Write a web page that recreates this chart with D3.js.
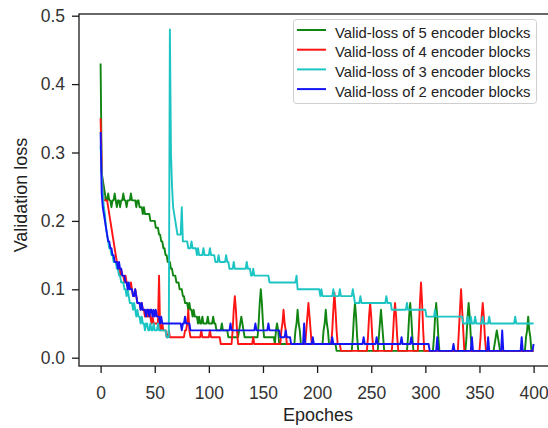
<!DOCTYPE html>
<html>
<head>
<meta charset="utf-8">
<script src="https://cdn.jsdelivr.net/npm/d3@7"></script>
<style>
  body { margin: 0; background: #fff; }
  text { font-family: "Liberation Sans", Arial, Helvetica, sans-serif; }
</style>
</head>
<body>
<svg id="chart" width="548" height="428"></svg>
<script>
// validation loss per epoch (index = epoch)
var loss5 = [
  0.43,0.27,0.26,0.25,0.24,0.23,0.23,0.24,0.23,0.23,
  0.22,0.23,0.23,0.24,0.23,0.22,0.23,0.23,0.22,0.23,
  0.23,0.24,0.23,0.23,0.22,0.23,0.23,0.23,0.24,0.23,
  0.23,0.23,0.23,0.22,0.23,0.23,0.22,0.22,0.22,0.21,
  0.22,0.21,0.21,0.21,0.21,0.21,0.20,0.20,0.20,0.20,
  0.20,0.19,0.19,0.19,0.18,0.18,0.17,0.17,0.16,0.16,
  0.15,0.15,0.14,0.14,0.14,0.13,0.13,0.12,0.12,0.12,
  0.11,0.11,0.11,0.10,0.10,0.10,0.09,0.09,0.08,0.08,
  0.08,0.07,0.08,0.07,0.07,0.06,0.07,0.06,0.06,0.06,
  0.05,0.06,0.05,0.05,0.06,0.05,0.05,0.05,0.05,0.06,
  0.05,0.05,0.05,0.05,0.06,0.05,0.05,0.04,0.04,0.04,
  0.04,0.04,0.05,0.04,0.04,0.04,0.04,0.04,0.03,0.03,
  0.03,0.03,0.03,0.03,0.03,0.03,0.03,0.03,0.04,0.05,
  0.06,0.05,0.04,0.03,0.03,0.03,0.03,0.03,0.03,0.03,
  0.03,0.03,0.03,0.03,0.03,0.03,0.05,0.08,0.10,0.08,
  0.05,0.03,0.03,0.03,0.03,0.03,0.03,0.03,0.03,0.03,
  0.03,0.02,0.04,0.05,0.04,0.02,0.02,0.02,0.02,0.02,
  0.02,0.02,0.02,0.02,0.02,0.02,0.02,0.02,0.02,0.02,
  0.04,0.05,0.07,0.05,0.04,0.02,0.02,0.02,0.02,0.02,
  0.02,0.02,0.02,0.02,0.02,0.02,0.02,0.02,0.02,0.02,
  0.02,0.02,0.02,0.02,0.02,0.02,0.04,0.05,0.07,0.05,
  0.04,0.02,0.02,0.02,0.02,0.02,0.02,0.02,0.01,0.01,
  0.01,0.01,0.01,0.01,0.01,0.01,0.01,0.01,0.01,0.01,
  0.01,0.01,0.01,0.03,0.06,0.08,0.06,0.03,0.01,0.01,
  0.01,0.01,0.01,0.01,0.01,0.01,0.01,0.01,0.01,0.01,
  0.01,0.01,0.01,0.01,0.01,0.01,0.01,0.03,0.05,0.07,
  0.05,0.03,0.01,0.01,0.01,0.01,0.01,0.01,0.01,0.01,
  0.01,0.01,0.01,0.01,0.01,0.01,0.01,0.01,0.01,0.01,
  0.01,0.01,0.01,0.01,0.03,0.06,0.08,0.06,0.03,0.01,
  0.01,0.01,0.01,0.01,0.01,0.01,0.01,0.01,0.01,0.01,
  0.01,0.01,0.01,0.01,0.01,0.01,0.01,0.01,0.03,0.06,
  0.08,0.06,0.03,0.01,0.01,0.01,0.01,0.01,0.01,0.01,
  0.01,0.01,0.01,0.01,0.01,0.01,0.01,0.01,0.01,0.01,
  0.01,0.01,0.01,0.01,0.01,0.01,0.01,0.01,0.03,0.06,
  0.08,0.06,0.03,0.01,0.01,0.01,0.01,0.01,0.01,0.01,
  0.01,0.01,0.01,0.01,0.01,0.01,0.01,0.01,0.01,0.01,
  0.01,0.01,0.01,0.01,0.02,0.03,0.04,0.03,0.02,0.01,
  0.01,0.01,0.01,0.01,0.01,0.01,0.01,0.01,0.01,0.01,
  0.01,0.01,0.01,0.01,0.01,0.01,0.01,0.01,0.01,0.01,
  0.01,0.01,0.01,0.03,0.04,0.06,0.04,0.03,0.01,0.01,
  0.01
];

var loss4 = [
  0.35,0.28,0.24,0.23,0.23,0.23,0.23,0.22,0.21,0.20,
  0.19,0.18,0.17,0.16,0.15,0.14,0.13,0.13,0.12,0.13,
  0.12,0.12,0.11,0.12,0.11,0.11,0.10,0.10,0.11,0.10,
  0.09,0.09,0.10,0.09,0.08,0.08,0.08,0.07,0.08,0.07,
  0.07,0.06,0.07,0.06,0.06,0.07,0.06,0.05,0.06,0.05,
  0.05,0.05,0.05,0.05,0.12,0.04,0.04,0.05,0.04,0.04,
  0.04,0.03,0.03,0.04,0.03,0.03,0.03,0.03,0.03,0.03,
  0.03,0.03,0.03,0.03,0.03,0.03,0.03,0.03,0.04,0.04,
  0.05,0.07,0.04,0.03,0.03,0.03,0.03,0.03,0.03,0.03,
  0.03,0.03,0.03,0.04,0.03,0.03,0.03,0.03,0.03,0.03,
  0.03,0.04,0.03,0.03,0.03,0.03,0.03,0.03,0.03,0.03,
  0.03,0.02,0.02,0.02,0.02,0.02,0.02,0.02,0.02,0.02,
  0.02,0.02,0.04,0.07,0.09,0.07,0.04,0.02,0.02,0.02,
  0.02,0.02,0.02,0.02,0.02,0.02,0.02,0.02,0.02,0.02,
  0.02,0.03,0.02,0.02,0.02,0.02,0.02,0.02,0.02,0.02,
  0.02,0.02,0.02,0.02,0.02,0.02,0.02,0.02,0.02,0.02,
  0.02,0.02,0.02,0.02,0.02,0.02,0.02,0.04,0.05,0.07,
  0.05,0.04,0.02,0.02,0.02,0.02,0.02,0.02,0.02,0.02,
  0.02,0.02,0.02,0.02,0.02,0.02,0.02,0.02,0.02,0.02,
  0.04,0.06,0.08,0.06,0.04,0.02,0.02,0.02,0.02,0.02,
  0.02,0.02,0.02,0.02,0.02,0.02,0.02,0.02,0.02,0.02,
  0.02,0.02,0.02,0.02,0.04,0.07,0.095,0.07,0.04,0.02,
  0.02,0.02,0.01,0.01,0.01,0.01,0.01,0.01,0.01,0.01,
  0.01,0.01,0.01,0.01,0.01,0.01,0.01,0.01,0.01,0.01,
  0.01,0.01,0.01,0.01,0.01,0.01,0.01,0.03,0.06,0.08,
  0.06,0.03,0.01,0.01,0.01,0.01,0.01,0.01,0.01,0.01,
  0.01,0.01,0.01,0.01,0.01,0.01,0.01,0.01,0.01,0.01,
  0.03,0.06,0.08,0.06,0.03,0.01,0.01,0.01,0.01,0.01,
  0.01,0.01,0.01,0.01,0.01,0.01,0.01,0.01,0.01,0.01,
  0.01,0.01,0.01,0.01,0.04,0.08,0.11,0.08,0.04,0.01,
  0.01,0.01,0.01,0.01,0.01,0.01,0.01,0.01,0.01,0.01,
  0.01,0.01,0.01,0.01,0.01,0.01,0.01,0.01,0.01,0.01,
  0.01,0.01,0.01,0.01,0.01,0.01,0.01,0.01,0.01,0.01,
  0.01,0.04,0.07,0.10,0.07,0.04,0.01,0.01,0.01,0.01,
  0.01,0.01,0.01,0.01,0.01,0.01,0.01,0.01,0.01,0.01,
  0.01,0.03,0.06,0.08,0.06,0.03,0.01,0.01,0.01,0.01,
  0.01,0.01,0.01,0.01,0.01,0.01,0.01,0.01,0.01,0.01,
  0.01,0.01,0.01,0.01,0.01,0.01,0.01,0.01,0.01,0.01,
  0.01,0.01,0.01,0.01,0.01,0.01,0.01,0.01,0.01,0.01,
  0.01,0.01,0.01,0.01,0.01,0.01,0.01,0.01,0.01,0.01,
  0.01
];

var loss3 = [
  0.31,0.27,0.24,0.22,0.21,0.19,0.18,0.17,0.16,0.16,
  0.15,0.15,0.14,0.14,0.14,0.13,0.13,0.12,0.12,0.11,
  0.11,0.11,0.10,0.10,0.09,0.10,0.09,0.08,0.08,0.08,
  0.07,0.08,0.07,0.06,0.07,0.06,0.06,0.05,0.06,0.05,
  0.05,0.04,0.05,0.05,0.04,0.04,0.05,0.04,0.04,0.05,
  0.04,0.04,0.04,0.05,0.04,0.04,0.04,0.04,0.04,0.04,
  0.04,0.03,0.03,0.03,0.48,0.30,0.25,0.22,0.21,0.20,
  0.19,0.18,0.18,0.18,0.18,0.22,0.17,0.17,0.17,0.17,
  0.17,0.16,0.16,0.16,0.17,0.16,0.16,0.16,0.16,0.15,
  0.16,0.15,0.15,0.15,0.15,0.16,0.15,0.15,0.15,0.15,
  0.15,0.16,0.15,0.15,0.15,0.15,0.14,0.14,0.14,0.15,
  0.14,0.14,0.14,0.14,0.14,0.14,0.15,0.14,0.14,0.13,
  0.13,0.13,0.13,0.14,0.13,0.13,0.13,0.13,0.13,0.13,
  0.13,0.13,0.13,0.13,0.13,0.14,0.13,0.13,0.13,0.12,
  0.12,0.13,0.12,0.12,0.12,0.12,0.12,0.12,0.12,0.12,
  0.12,0.12,0.12,0.12,0.12,0.12,0.11,0.11,0.11,0.11,
  0.11,0.11,0.11,0.11,0.11,0.11,0.11,0.11,0.11,0.11,
  0.11,0.11,0.11,0.11,0.11,0.11,0.11,0.11,0.11,0.11,
  0.11,0.12,0.10,0.10,0.10,0.10,0.10,0.10,0.10,0.10,
  0.10,0.10,0.10,0.10,0.10,0.10,0.10,0.10,0.10,0.10,
  0.10,0.10,0.10,0.09,0.10,0.09,0.09,0.09,0.09,0.09,
  0.09,0.09,0.09,0.09,0.09,0.10,0.09,0.09,0.09,0.09,
  0.09,0.10,0.09,0.09,0.09,0.09,0.09,0.09,0.09,0.09,
  0.09,0.09,0.09,0.10,0.09,0.08,0.08,0.08,0.08,0.08,
  0.09,0.08,0.08,0.08,0.08,0.08,0.08,0.08,0.08,0.08,
  0.08,0.08,0.08,0.08,0.08,0.08,0.08,0.08,0.08,0.08,
  0.08,0.08,0.08,0.08,0.09,0.08,0.08,0.08,0.08,0.07,
  0.07,0.07,0.07,0.07,0.07,0.07,0.07,0.07,0.07,0.07,
  0.07,0.07,0.07,0.08,0.07,0.07,0.07,0.07,0.07,0.07,
  0.07,0.07,0.07,0.07,0.07,0.07,0.07,0.07,0.07,0.07,
  0.07,0.06,0.06,0.06,0.06,0.06,0.06,0.06,0.06,0.07,
  0.06,0.06,0.06,0.06,0.06,0.06,0.06,0.06,0.06,0.06,
  0.06,0.06,0.06,0.06,0.06,0.06,0.06,0.06,0.06,0.06,
  0.06,0.06,0.06,0.06,0.06,0.05,0.05,0.05,0.05,0.06,
  0.05,0.05,0.06,0.05,0.05,0.05,0.06,0.05,0.05,0.05,
  0.05,0.05,0.05,0.06,0.05,0.05,0.05,0.05,0.05,0.06,
  0.05,0.05,0.05,0.05,0.05,0.05,0.05,0.05,0.05,0.05,
  0.05,0.05,0.05,0.05,0.05,0.05,0.05,0.05,0.05,0.05,
  0.05,0.05,0.05,0.06,0.05,0.05,0.05,0.05,0.05,0.05,
  0.05,0.05,0.05,0.05,0.05,0.05,0.05,0.05,0.05,0.05,
  0.05
];

var loss2 = [
  0.33,0.24,0.22,0.21,0.20,0.19,0.18,0.17,0.17,0.16,
  0.16,0.15,0.15,0.14,0.14,0.14,0.13,0.14,0.13,0.13,
  0.12,0.12,0.12,0.11,0.11,0.10,0.11,0.10,0.10,0.10,
  0.09,0.09,0.10,0.09,0.08,0.08,0.08,0.07,0.08,0.07,
  0.07,0.07,0.06,0.07,0.07,0.06,0.07,0.07,0.06,0.07,
  0.06,0.07,0.06,0.06,0.06,0.05,0.06,0.05,0.05,0.05,
  0.05,0.05,0.05,0.05,0.05,0.05,0.05,0.05,0.05,0.05,
  0.05,0.05,0.05,0.05,0.05,0.04,0.05,0.05,0.06,0.05,
  0.05,0.05,0.05,0.04,0.04,0.04,0.04,0.04,0.04,0.04,
  0.04,0.04,0.04,0.04,0.04,0.04,0.04,0.04,0.04,0.04,
  0.04,0.04,0.04,0.04,0.04,0.04,0.04,0.04,0.04,0.04,
  0.04,0.04,0.04,0.04,0.04,0.04,0.04,0.04,0.04,0.04,
  0.05,0.04,0.04,0.04,0.04,0.04,0.04,0.04,0.04,0.04,
  0.04,0.04,0.04,0.04,0.04,0.04,0.04,0.04,0.04,0.04,
  0.04,0.04,0.04,0.05,0.04,0.04,0.04,0.04,0.04,0.04,
  0.04,0.04,0.04,0.04,0.04,0.05,0.04,0.04,0.04,0.04,
  0.04,0.04,0.04,0.04,0.04,0.04,0.03,0.03,0.03,0.03,
  0.03,0.04,0.03,0.03,0.03,0.03,0.02,0.02,0.02,0.02,
  0.02,0.02,0.02,0.02,0.02,0.02,0.02,0.02,0.05,0.02,
  0.02,0.02,0.02,0.02,0.02,0.02,0.03,0.02,0.02,0.02,
  0.02,0.02,0.02,0.02,0.02,0.02,0.02,0.02,0.02,0.02,
  0.02,0.02,0.02,0.02,0.03,0.02,0.02,0.02,0.02,0.02,
  0.02,0.02,0.02,0.02,0.02,0.02,0.02,0.02,0.02,0.02,
  0.02,0.02,0.02,0.02,0.02,0.02,0.02,0.02,0.02,0.02,
  0.02,0.02,0.02,0.03,0.02,0.02,0.02,0.02,0.02,0.02,
  0.02,0.02,0.02,0.02,0.02,0.03,0.02,0.02,0.02,0.02,
  0.02,0.02,0.02,0.02,0.02,0.02,0.02,0.02,0.02,0.02,
  0.02,0.02,0.02,0.02,0.02,0.02,0.02,0.02,0.03,0.02,
  0.02,0.02,0.02,0.02,0.02,0.02,0.02,0.03,0.02,0.02,
  0.02,0.02,0.02,0.02,0.02,0.02,0.02,0.02,0.02,0.02,
  0.02,0.02,0.02,0.02,0.01,0.01,0.01,0.01,0.01,0.01,
  0.01,0.03,0.01,0.01,0.01,0.01,0.01,0.01,0.01,0.01,
  0.01,0.01,0.01,0.01,0.01,0.01,0.02,0.01,0.01,0.01,
  0.01,0.01,0.01,0.01,0.01,0.01,0.01,0.01,0.01,0.01,
  0.01,0.01,0.01,0.03,0.01,0.01,0.01,0.01,0.01,0.01,
  0.01,0.01,0.01,0.01,0.01,0.01,0.01,0.01,0.03,0.01,
  0.01,0.01,0.01,0.01,0.01,0.01,0.01,0.01,0.01,0.01,
  0.01,0.04,0.01,0.01,0.01,0.01,0.01,0.01,0.01,0.01,
  0.01,0.01,0.01,0.01,0.01,0.01,0.01,0.01,0.01,0.03,
  0.01,0.01,0.01,0.01,0.01,0.01,0.01,0.01,0.01,0.01,
  0.02
];

var seriesNames = [
  "Valid-loss of 5 encoder blocks",
  "Valid-loss of 4 encoder blocks",
  "Valid-loss of 3 encoder blocks",
  "Valid-loss of 2 encoder blocks"
];
var seriesColors = ["#118511", "#ff1414", "#1cc4c4", "#1414f5"];
var xTicks = [0, 50, 100, 150, 200, 250, 300, 350, 400];
var yTicks = [0.0, 0.1, 0.2, 0.3, 0.4, 0.5];

var series = [loss5, loss4, loss3, loss2];

var svg = d3.select("#chart");

var frame = {left: 79, top: 14, bottom: 366};

var x = d3.scaleLinear().domain([0, 400]).range([100.6, 533.6]);
var y = d3.scaleLinear().domain([0, 0.5]).range([357.7, 15.7]);

// box around the plot (right side runs off the picture)
svg.append("rect")
  .attr("x", frame.left)
  .attr("y", frame.top)
  .attr("width", 600)
  .attr("height", frame.bottom - frame.top)
  .style("fill", "none")
  .style("stroke", "#1a1a1a")
  .style("stroke-width", 1.3);

var yAxis = svg.append("g")
  .attr("transform", "translate(" + frame.left + ",0)")
  .call(d3.axisLeft(y)
    .tickValues(yTicks)
    .tickFormat(d3.format(".1f"))
    .tickSize(7)
    .tickPadding(7));

var xAxis = svg.append("g")
  .attr("transform", "translate(0," + frame.bottom + ")")
  .call(d3.axisBottom(x)
    .tickValues(xTicks)
    .tickSize(7)
    .tickPadding(13.5));

[yAxis, xAxis].forEach(function(ax) {
  ax.select(".domain").remove();
  ax.selectAll(".tick line").style("stroke", "#1a1a1a").style("stroke-width", 1.3);
  ax.selectAll(".tick text")
    .style("font-family", "'Liberation Sans', Arial, sans-serif")
    .style("font-size", "17.5px")
    .style("fill", "#333");
});

var line = d3.line()
  .x(function(d, i) { return x(i); })
  .y(function(d) { return y(d); });

svg.append("g").selectAll("path")
  .data(series).enter()
  .append("path")
  .attr("d", line)
  .style("fill", "none")
  .style("stroke", function(d, i) { return seriesColors[i]; })
  .style("stroke-width", 1.9)
  .style("stroke-linejoin", "round");

svg.append("text")
  .attr("transform", "translate(27,195) rotate(-90)")
  .style("text-anchor", "middle")
  .style("font-size", "18px")
  .style("fill", "#222")
  .text("Validation loss");

svg.append("text")
  .attr("x", 318)
  .attr("y", 421)
  .style("text-anchor", "middle")
  .style("font-size", "18px")
  .style("fill", "#222")
  .text("Epoches");

// legend
var legend = svg.append("g");

legend.append("rect")
  .attr("x", 293.5)
  .attr("y", 19.5)
  .attr("width", 243)
  .attr("height", 84)
  .attr("rx", 3)
  .style("fill", "#fff")
  .style("stroke", "#cfcfcf");

seriesNames.forEach(function(name, i) {
  legend.append("line")
    .attr("x1", 297)
    .attr("x2", 326)
    .attr("y1", 30 + i * 19.7)
    .attr("y2", 30 + i * 19.7)
    .style("stroke", seriesColors[i])
    .style("stroke-width", 2);

  legend.append("text")
    .attr("x", 335)
    .attr("y", 37.7 + i * 19.7)
    .style("font-size", "14.8px")
    .style("fill", "#222")
    .text(name);
});
</script>
</body>
</html>
